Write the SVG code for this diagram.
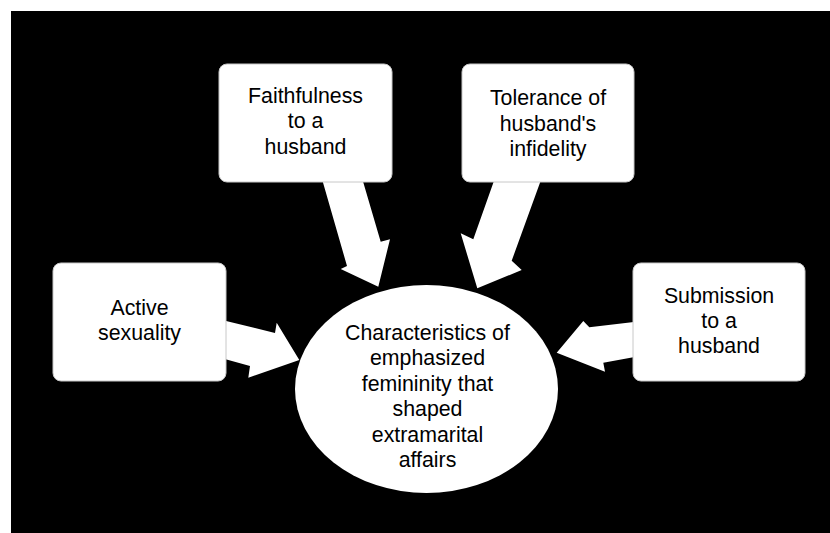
<svg xmlns="http://www.w3.org/2000/svg" width="830" height="533" viewBox="0 0 830 533">
<style>
.bg{fill:#000}
.box{fill:#fff;stroke:#c8c8c8;stroke-width:1}
.ell{fill:#fff}
.arr{fill:#fff}
.t{font-family:"Liberation Sans",Arial,sans-serif;font-size:21.33px;fill:#000;text-anchor:middle}
</style>
<rect x="0" y="0" width="830" height="533" fill="#fff"/>
<rect class="bg" x="11" y="11" width="819" height="522"/>
<g id="connectors">
<polygon class="arr" points="321.7,178 362,178 380.7,241.7 390,239.3 378.3,286.7 340.7,269 347,266"/>
<polygon class="arr" points="495,178 541.7,178 511.7,260.7 521.7,270 477.3,288.3 460.7,233.3 473.3,239.3"/>
<polygon class="arr" points="222,320 275,333 276.7,322.7 299.3,360 248.3,377.7 250,366 222,358.3"/>
<polygon class="arr" points="636,321.7 589.3,327.3 583.3,321 556.7,352.7 605,371.7 603.3,362.7 636,356.7"/>
</g>
<g id="faithfulness">
<rect class="box" x="219" y="64" width="173" height="118" rx="8"/>
<text class="t" x="305.5" y="103">Faithfulness</text>
<text class="t" x="305.5" y="128">to a</text>
<text class="t" x="305.5" y="154">husband</text>
</g>
<g id="tolerance">
<rect class="box" x="462" y="64" width="172" height="118" rx="8"/>
<text class="t" x="548" y="105">Tolerance of</text>
<text class="t" x="548" y="131">husband's</text>
<text class="t" x="548" y="156">infidelity</text>
</g>
<g id="active">
<rect class="box" x="53" y="263" width="173" height="118" rx="8"/>
<text class="t" x="139.5" y="315">Active</text>
<text class="t" x="139.5" y="340">sexuality</text>
</g>
<g id="submission">
<rect class="box" x="633" y="263" width="172" height="118" rx="8"/>
<text class="t" x="719" y="303">Submission</text>
<text class="t" x="719" y="328">to a</text>
<text class="t" x="719" y="353">husband</text>
</g>
<g id="center">
<ellipse class="ell" cx="426.5" cy="389" rx="131.5" ry="104"/>
<text class="t" x="427.5" y="340">Characteristics of</text>
<text class="t" x="427.5" y="365">emphasized</text>
<text class="t" x="427.5" y="391">femininity that</text>
<text class="t" x="427.5" y="416">shaped</text>
<text class="t" x="427.5" y="442">extramarital</text>
<text class="t" x="427.5" y="467">affairs</text>
</g>
</svg>
